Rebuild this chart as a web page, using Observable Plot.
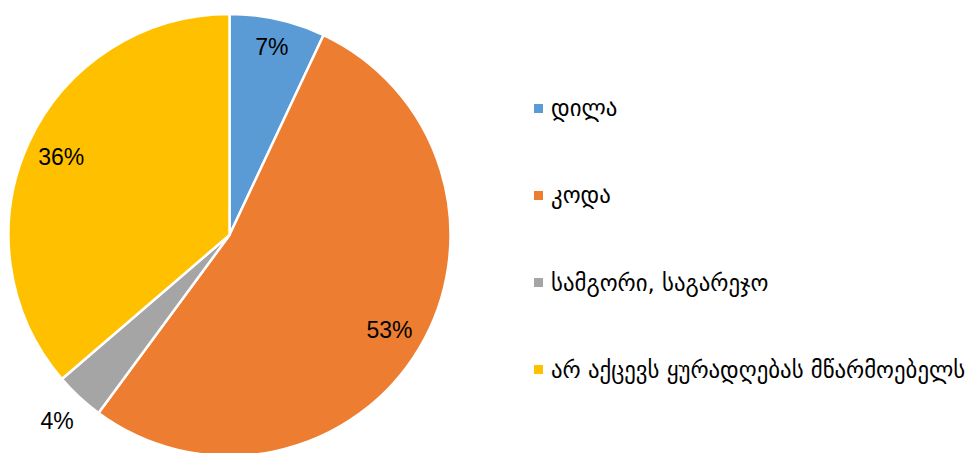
<!DOCTYPE html>
<html>
<head>
<meta charset="utf-8">
<script src="https://cdn.jsdelivr.net/npm/d3@7"></script>
<script src="https://cdn.jsdelivr.net/npm/@observablehq/plot@0.6"></script>
<style>
  html, body { margin: 0; padding: 0; background: #fff; }
  #wrap { position: relative; width: 966px; height: 453px; overflow: hidden; }
  #legend { position: absolute; left: 534px; top: 96px; font-family: "DejaVu Sans", sans-serif; font-size: 22.8px; color: #000; }
  .item { display: flex; align-items: center; height: 24px; margin-bottom: 63.3px; white-space: nowrap; }
  .sw { width: 9px; height: 9px; margin-right: 8px; flex: none; }
</style>
</head>
<body>
<div id="wrap"><div id="legend"></div></div>
<script>
const categories = ["დილა", "კოდა", "სამგორი, საგარეჯო", "არ აქცევს ყურადღებას მწარმოებელს"];
const values = [7.0, 53.1, 3.6, 36.3];
const labels = ["7%", "53%", "4%", "36%"];
const colors = ["#5B9BD5", "#ED7D31", "#A5A5A5", "#FFC000"];

const data = categories.map((c, i) => ({category: c, value: values[i], label: labels[i], color: colors[i]}));
const arcs = d3.pie().sort(null).value(d => d.value)(data);
const total = d3.sum(values);

// label positions in unit-radius coordinates (x right, y up)
const labelData = arcs.map(a => {
  const mid = (a.startAngle + a.endAngle) / 2;
  const share = a.data.value / total;
  const rr = share < 0.05 ? 1.15 : (share < 0.1 ? 0.87 : 0.84);
  return {x: rr * Math.sin(mid), y: rr * Math.cos(mid), label: a.data.label};
});

function pieMark(index, scales, values, dimensions, context) {
  const cx = scales.x(0), cy = scales.y(0);
  const r = scales.x(1) - scales.x(0);
  const arcGen = d3.arc().innerRadius(0).outerRadius(r);
  const g = d3.create("svg:g").attr("transform", `translate(${cx},${cy})`);
  g.selectAll("path").data(arcs).join("path")
    .attr("d", arcGen)
    .attr("fill", d => d.data.color)
    .attr("stroke", "#fff")
    .attr("stroke-width", 2.5)
    .attr("stroke-linejoin", "round");
  return g.node();
}

const chart = Plot.plot({
  width: 966,
  height: 453,
  marginLeft: 8.5,
  marginRight: 515.5,
  marginTop: 14,
  marginBottom: -3,
  x: {domain: [-1, 1], axis: null},
  y: {domain: [-1, 1], axis: null},
  style: {background: "transparent", overflow: "visible"},
  marks: [
    pieMark,
    Plot.text(labelData, {x: "x", y: "y", text: "label", fontSize: 23, fill: "#000",
      fontFamily: "Liberation Sans, Arial, sans-serif", textAnchor: "middle", dy: 0})
  ]
});
document.getElementById("wrap").prepend(chart);

const legend = d3.select("#legend");
data.forEach(d => {
  const it = legend.append("div").attr("class", "item");
  it.append("div").attr("class", "sw").style("background", d.color);
  it.append("span").text(d.category);
});
</script>
</body>
</html>
